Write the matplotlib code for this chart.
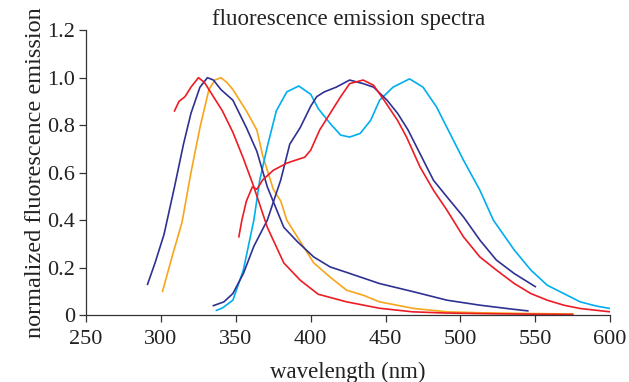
import matplotlib.pyplot as plt

plt.rcParams['font.family'] = ['Liberation Serif', 'DejaVu Serif']

# emission spectra: wavelength (nm), normalized emission
red_a_x = [309, 312, 316, 320, 325, 329, 335, 341, 348, 355, 362, 371, 382, 393, 405, 424, 446, 468, 490, 520, 550, 575]
red_a_y = [0.86, 0.90, 0.92, 0.96, 1.00, 0.98, 0.92, 0.86, 0.77, 0.66, 0.54, 0.37, 0.22, 0.147, 0.088, 0.056, 0.029, 0.014, 0.009, 0.006, 0.004, 0.003]

navy_a_x = [291, 296, 302, 309, 315, 320, 326, 331, 335, 340, 348, 357, 364, 371, 382, 391, 402, 413, 424, 446, 469, 491, 513, 535, 545]
navy_a_y = [0.13, 0.22, 0.34, 0.54, 0.72, 0.85, 0.96, 1.00, 0.99, 0.95, 0.905, 0.79, 0.69, 0.54, 0.37, 0.31, 0.245, 0.203, 0.18, 0.133, 0.098, 0.063, 0.042, 0.025, 0.018]

orange_x = [301, 308, 314, 320, 326, 332, 336, 340, 344, 348, 357, 364, 368, 375, 380, 384, 391, 402, 413, 424, 435, 446, 469, 491, 513, 545, 575]
orange_y = [0.10, 0.26, 0.39, 0.60, 0.79, 0.95, 0.99, 1.00, 0.98, 0.95, 0.86, 0.78, 0.67, 0.53, 0.48, 0.40, 0.33, 0.22, 0.16, 0.105, 0.084, 0.056, 0.028, 0.014, 0.010, 0.007, 0.005]

cyan_x = [337, 341, 348, 355, 362, 366, 371, 377, 384, 392, 400, 405, 413, 420, 426, 433, 440, 446, 455, 466, 475, 484, 493, 502, 513, 522, 536, 547, 558, 569, 580, 591, 600]
cyan_y = [0.02, 0.03, 0.063, 0.19, 0.40, 0.57, 0.71, 0.86, 0.94, 0.965, 0.93, 0.87, 0.807, 0.758, 0.75, 0.765, 0.82, 0.905, 0.96, 0.995, 0.96, 0.877, 0.765, 0.653, 0.526, 0.40, 0.274, 0.19, 0.126, 0.091, 0.056, 0.038, 0.028]

navy_b_x = [335, 342, 348, 355, 362, 371, 380, 386, 393, 400, 404, 409, 417, 426, 435, 442, 451, 458, 465, 473, 482, 491, 502, 513, 524, 536, 550]
navy_b_y = [0.04, 0.056, 0.091, 0.175, 0.29, 0.40, 0.57, 0.72, 0.79, 0.88, 0.92, 0.94, 0.96, 0.99, 0.975, 0.96, 0.905, 0.85, 0.78, 0.68, 0.568, 0.498, 0.414, 0.316, 0.232, 0.175, 0.12]

red_b_x = [352, 354, 357, 361, 364, 368, 375, 384, 391, 396, 400, 406, 413, 420, 426, 435, 442, 449, 458, 464, 473, 482, 491, 502, 513, 524, 536, 547, 558, 569, 580, 600]
red_b_y = [0.33, 0.40, 0.48, 0.54, 0.53, 0.57, 0.61, 0.64, 0.655, 0.665, 0.695, 0.78, 0.85, 0.92, 0.975, 0.99, 0.968, 0.905, 0.82, 0.75, 0.624, 0.526, 0.442, 0.33, 0.245, 0.19, 0.133, 0.091, 0.063, 0.042, 0.028, 0.014]

red = '#ec1c24'
navy = '#2e3192'
orange = '#f7a51b'
cyan = '#00aeef'

fig = plt.figure(figsize=(6.29, 3.82), dpi=100)
ax = fig.add_axes([0.137, 0.175, 0.833, 0.746])

ax.plot(orange_x, orange_y, color=orange, lw=1.2)
ax.plot(cyan_x, cyan_y, color=cyan, lw=1.2)
ax.plot(navy_a_x, navy_a_y, color=navy, lw=1.2)
ax.plot(navy_b_x, navy_b_y, color=navy, lw=1.2)
ax.plot(red_a_x, red_a_y, color=red, lw=1.2)
ax.plot(red_b_x, red_b_y, color=red, lw=1.2)

ax.set_xlim(250, 600)
ax.set_ylim(0, 1.2)
ax.set_xticks([250, 300, 350, 400, 450, 500, 550, 600])
ax.set_yticks([0, 0.2, 0.4, 0.6, 0.8, 1.0, 1.2])
ax.set_yticklabels(['0', '0.2', '0.4', '0.6', '0.8', '1.0', '1.2'])

for side in ['top', 'right']:
    ax.spines[side].set_visible(False)
for side in ['left', 'bottom']:
    ax.spines[side].set_color('#333333')
    ax.spines[side].set_linewidth(0.9)
ax.tick_params(direction='out', length=5, width=0.9, color='#333333',
               labelsize=16, labelcolor='#222222', pad=3)
ax.tick_params(axis='x', pad=6)

ax.set_xlabel('wavelength (nm)', fontsize=16.5, color='#222222', labelpad=9)
ax.set_ylabel('normalized fluorescence emission', fontsize=17.5, color='#222222', labelpad=1)
ax.set_title('fluorescence emission spectra', fontsize=16.5, color='#222222', pad=1)

fig.savefig('out.png', dpi=100)
